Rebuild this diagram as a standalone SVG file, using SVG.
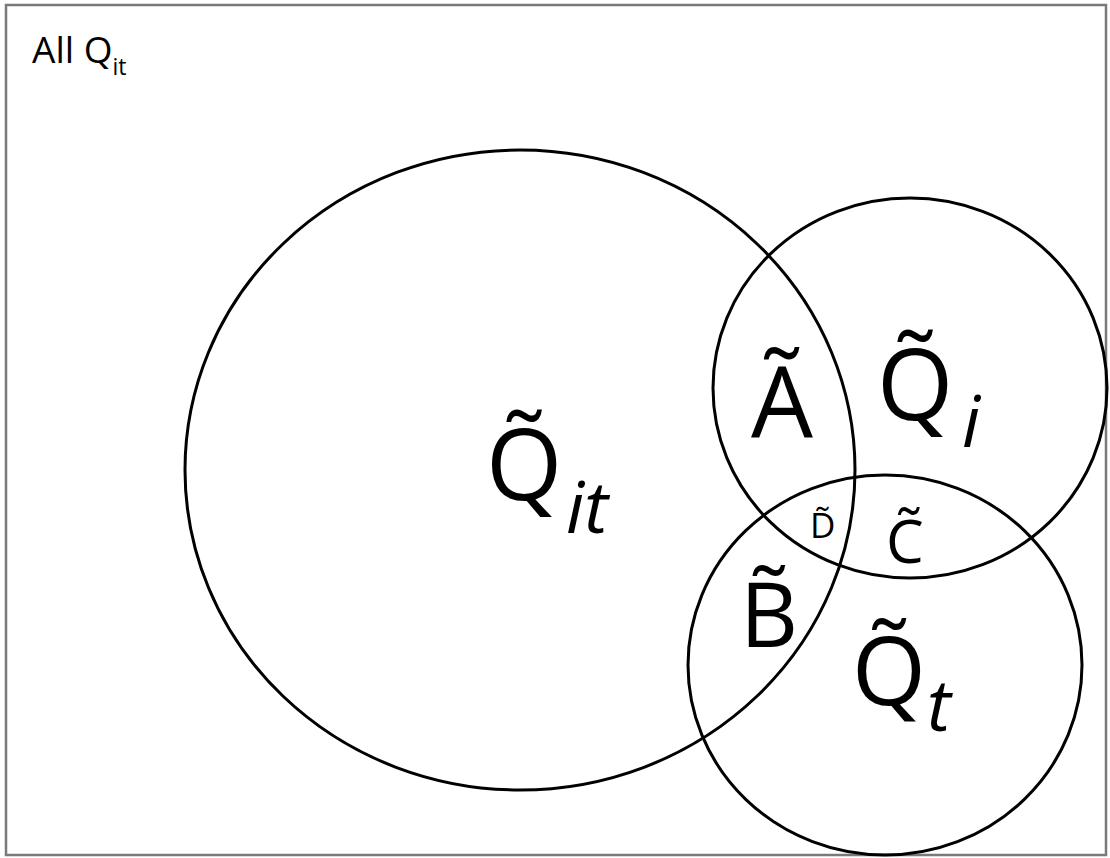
<svg xmlns="http://www.w3.org/2000/svg" width="1110" height="858" viewBox="0 0 1110 858">
<style>
.set{fill:none;stroke:#000;stroke-width:3}
.lbl{font-family:"Open Sans","Liberation Sans",sans-serif;fill:#000}
.sub{font-style:italic}
</style>
<rect width="1110" height="858" fill="#fff"/>
<g id="universe">
<rect x="6" y="5" width="1100" height="850" fill="none" stroke="#7a7a7a" stroke-width="2.5"/>
<text class="lbl" x="32" y="63" font-size="37">All Q<tspan font-size="23" dy="12">it</tspan></text>
</g>
<g id="set-Qit">
<ellipse class="set" cx="520" cy="470" rx="335" ry="320"/>
<text class="lbl" x="486" y="500" font-size="98">Q&#x303;</text>
<text class="lbl sub" x="566" y="533" font-size="72">it</text>
</g>
<g id="set-Qi">
<ellipse class="set" cx="910" cy="388" rx="197" ry="190"/>
<text class="lbl" x="877" y="420" font-size="98">Q&#x303;</text>
<text class="lbl sub" x="962" y="447" font-size="72">i</text>
</g>
<g id="set-Qt">
<ellipse class="set" cx="885" cy="665" rx="197" ry="190"/>
<text class="lbl" x="852" y="705" font-size="95">Q&#x303;</text>
<text class="lbl sub" x="927" y="731" font-size="72">t</text>
</g>
<g id="region-A"><text class="lbl" x="751" y="437" font-size="98">&#xC3;</text></g>
<g id="region-B"><text class="lbl" x="740" y="647" font-size="90">B&#x303;</text></g>
<g id="region-C"><text class="lbl" x="886" y="563" font-size="60">C&#x303;</text></g>
<g id="region-D"><text class="lbl" x="810" y="538" font-size="35">D&#x303;</text></g>
</svg>
